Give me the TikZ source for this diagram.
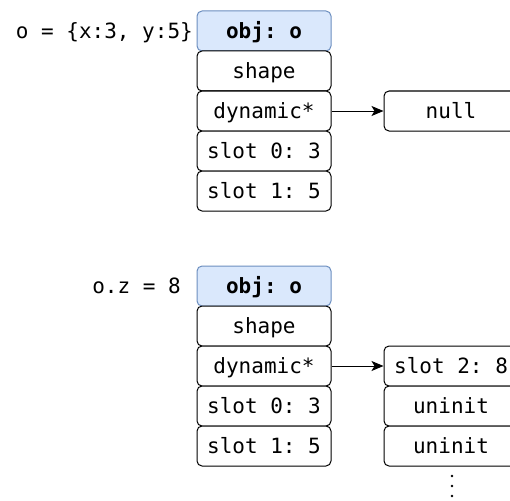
\documentclass[tikz,border=0pt]{standalone}
\usepackage{fontspec}
\setmonofont{DejaVu Sans Mono}
\usetikzlibrary{arrows.meta}
\definecolor{hdrfill}{HTML}{DAE8FC}
\definecolor{hdrline}{HTML}{6C8EBF}
\tikzset{
  cell/.style={draw=black, line width=1pt, rounded corners=5pt, fill=white,
    minimum width=134pt, minimum height=40pt, inner sep=0pt,
    text height=15pt, text depth=0pt,
    font=\ttfamily\fontsize{21}{25}\selectfont},
  header/.style={cell, draw=hdrline, fill=hdrfill, font=\ttfamily\bfseries\fontsize{21}{25}\selectfont},
  code/.style={inner sep=0pt, text height=15pt, text depth=0pt,
    font=\ttfamily\fontsize{21}{25}\selectfont},
  ptr/.style={line width=1pt, -{Stealth[length=12pt,width=10pt,inset=3pt]}}
}
\begin{document}
\begin{tikzpicture}[x=1pt,y=-1pt]
\useasboundingbox (0,0) rectangle (510,500);

% object before the property is added
\node[code, anchor=east] (src1) at (193,31) {o = \{x:3, y:5\}};
\node[header] (obj1) at (264,31) {obj: o};
\node[cell] (shape1) at (264,71) {shape};
\node[cell] (dyn1) at (264,111) {dynamic*};
\node[cell] (s01) at (264,151) {slot 0: 3};
\node[cell] (s11) at (264,191) {slot 1: 5};
\node[cell] (null) at (451,111) {null};
\draw[ptr] (dyn1.east) -- (null.west);

% object after o.z = 8
\node[code, anchor=east] (src2) at (181,286) {o.z = 8};
\node[header] (obj2) at (264,286) {obj: o};
\node[cell] (shape2) at (264,326) {shape};
\node[cell] (dyn2) at (264,366) {dynamic*};
\node[cell] (s02) at (264,406) {slot 0: 3};
\node[cell] (s12) at (264,446) {slot 1: 5};
\node[cell] (s22) at (451,366) {slot 2: 8};
\node[cell] (u1) at (451,406) {uninit};
\node[cell] (u2) at (451,446) {uninit};
\draw[ptr] (dyn2.east) -- (s22.west);

% remaining slots
\foreach \yy in {476,486,496} \fill (452,\yy) circle (1.4pt);
\end{tikzpicture}
\end{document}
